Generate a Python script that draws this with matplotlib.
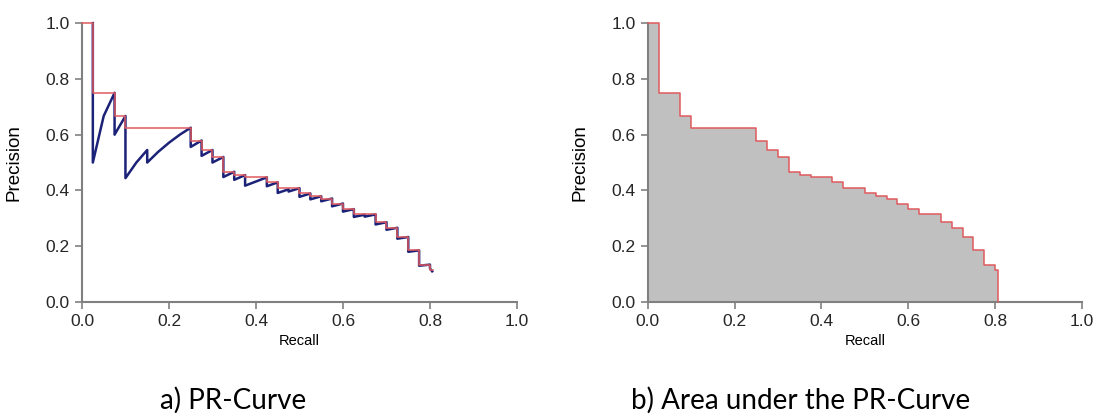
import matplotlib
matplotlib.use('Agg')
import matplotlib.pyplot as plt

# recall reached at each relevant document (40 relevant in total)
recall = [0.025, 0.05, 0.075, 0.1, 0.125, 0.15, 0.175, 0.2,
          0.225, 0.25, 0.275, 0.3, 0.325, 0.35, 0.375, 0.4,
          0.425, 0.45, 0.475, 0.5, 0.525, 0.55, 0.575, 0.6,
          0.625, 0.65, 0.675, 0.7, 0.725, 0.75, 0.775, 0.8]
# precision right at each relevant hit (top of the saw tooth)
prec_hit = [1.0, 0.667, 0.75, 0.667, 0.5, 0.545, 0.538, 0.571,
            0.6, 0.625, 0.579, 0.545, 0.52, 0.467, 0.455, 0.432,
            0.447, 0.429, 0.404, 0.408, 0.389, 0.379, 0.371, 0.353,
            0.333, 0.313, 0.314, 0.286, 0.266, 0.233, 0.185, 0.134]
# precision after the misses that follow each hit (bottom of the tooth)
prec_after = [0.5, 0.667, 0.6, 0.444, 0.5, 0.5, 0.538, 0.571,
              0.6, 0.556, 0.524, 0.5, 0.448, 0.438, 0.417, 0.432,
              0.415, 0.391, 0.396, 0.377, 0.368, 0.361, 0.343, 0.324,
              0.305, 0.306, 0.278, 0.259, 0.227, 0.18, 0.13, 0.12]
# interpolated precision on each recall interval (red step curve)
prec_interp = [1.0, 0.75, 0.75, 0.667, 0.625, 0.625, 0.625, 0.625,
               0.625, 0.625, 0.579, 0.545, 0.52, 0.467, 0.455, 0.447,
               0.447, 0.429, 0.408, 0.408, 0.389, 0.379, 0.371, 0.353,
               0.333, 0.314, 0.314, 0.286, 0.266, 0.233, 0.185, 0.134]
tail_recall = 0.807
tail_prec = 0.115
end_recall = 0.805
end_prec = 0.11

ticks = [0.0, 0.2, 0.4, 0.6, 0.8, 1.0]
captions = ['a) PR-Curve', 'b) Area under the PR-Curve']

plt.rcParams['font.family'] = ['Liberation Sans', 'DejaVu Sans']

RED = '#e05a5e'
BLUE = '#1c2278'
GREY = '#808080'


def style_axes(ax):
    ax.set_xlim(0, 1)
    ax.set_ylim(0, 1)
    for side in ['top', 'right']:
        ax.spines[side].set_visible(False)
    for side in ['left', 'bottom']:
        ax.spines[side].set_color(GREY)
        ax.spines[side].set_linewidth(1.5)
    ax.set_xticks(ticks, labels=[f'{t:.1f}' for t in ticks])
    ax.set_yticks(ticks, labels=[f'{t:.1f}' for t in ticks])
    ax.tick_params(direction='out', length=5, width=1.2, color=GREY,
                   labelsize=12.5, labelcolor='#262626', pad=4)
    ax.set_xlabel('Recall', fontsize=10.5, labelpad=3)
    ax.set_ylabel('Precision', fontsize=13.5, labelpad=16)


# red interpolated step line
step_x = [0.0] + recall + [tail_recall]
step_y = [prec_interp[0]] + prec_interp + [tail_prec]

# blue saw-tooth precision line
saw_x, saw_y = [], []
for r, h, a in zip(recall, prec_hit, prec_after):
    saw_x += [r, r]
    saw_y += [h, a]
saw_x.append(end_recall)
saw_y.append(end_prec)

fig = plt.figure(figsize=(11, 4.2), dpi=100)
ax1 = fig.add_axes([0.0745, 0.281, 0.3955, 0.664])
ax2 = fig.add_axes([0.589, 0.281, 0.3945, 0.664])

ax1.plot(saw_x, saw_y, color=BLUE, lw=1.8, clip_on=False, zorder=3)
ax1.step(step_x, step_y, where='pre', color=RED, lw=1.1, clip_on=False, zorder=4)
style_axes(ax1)

ax2.fill_between(step_x, step_y, 0, step='pre', color='#c0c0c0', lw=0, zorder=2)
ax2.step(step_x + [tail_recall], step_y + [0.0], where='pre', color=RED, lw=1.1,
         clip_on=False, zorder=3)
style_axes(ax2)

fig.text(0.212, 0.048, captions[0], ha='center', va='center', fontsize=20,
         family=['Lato', 'DejaVu Sans'])
fig.text(0.728, 0.048, captions[1], ha='center', va='center', fontsize=20,
         family=['Lato', 'DejaVu Sans'])

fig.savefig('out.png', dpi=100)
